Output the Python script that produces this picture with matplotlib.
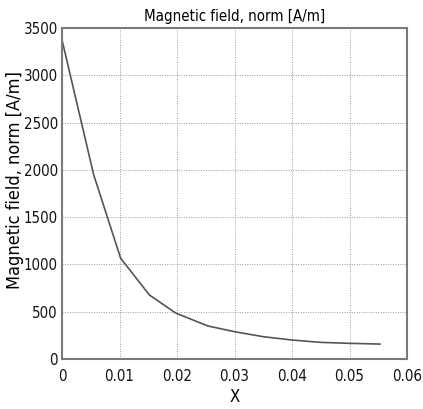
import matplotlib
matplotlib.use("Agg")
import matplotlib.pyplot as plt

x_vals = [0.0, 0.0055, 0.0102, 0.0152, 0.0198, 0.0254, 0.030, 0.035, 0.040, 0.045, 0.050, 0.0553]
h_vals = [3375, 1950, 1065, 677, 485, 349, 289, 236, 201, 176, 166, 158]
x_ticks = [0, 0.01, 0.02, 0.03, 0.04, 0.05, 0.06]
x_tick_labels = ["0", "0.01", "0.02", "0.03", "0.04", "0.05", "0.06"]
y_ticks = [0, 500, 1000, 1500, 2000, 2500, 3000, 3500]

plt.rcParams["font.family"] = "DejaVu Sans"
plt.rcParams["font.stretch"] = "condensed"

fig = plt.figure(figsize=(4.23, 4.09), dpi=100)
ax = fig.add_axes([0.1466, 0.1222, 0.8156, 0.8093])
ax.plot(x_vals, h_vals, color="#4c5a52", linewidth=1.2)
ax.set_xlim(0, 0.06)
ax.set_ylim(0, 3500)
ax.set_xticks(x_ticks)
ax.set_xticklabels(x_tick_labels)
ax.set_yticks(y_ticks)
ax.grid(True, linestyle=(0, (1, 1.5)), color="#999999", linewidth=0.7)
for s in ax.spines.values():
    s.set_color("#7a7a7a")
    s.set_linewidth(1.5)
ax.tick_params(direction="in", length=0, labelsize=10.8, colors="#111111")
ax.tick_params(axis="x", pad=7)
ax.tick_params(axis="y", pad=3)
ax.set_title("Magnetic field, norm [A/m]", fontsize=10.8, pad=5)
ax.set_xlabel("X", fontsize=12, labelpad=3)
ax.set_ylabel("Magnetic field, norm [A/m]", fontsize=13, va="center")
ax.yaxis.set_label_coords(-0.135, 0.542)
fig.savefig("out.png", dpi=100)
